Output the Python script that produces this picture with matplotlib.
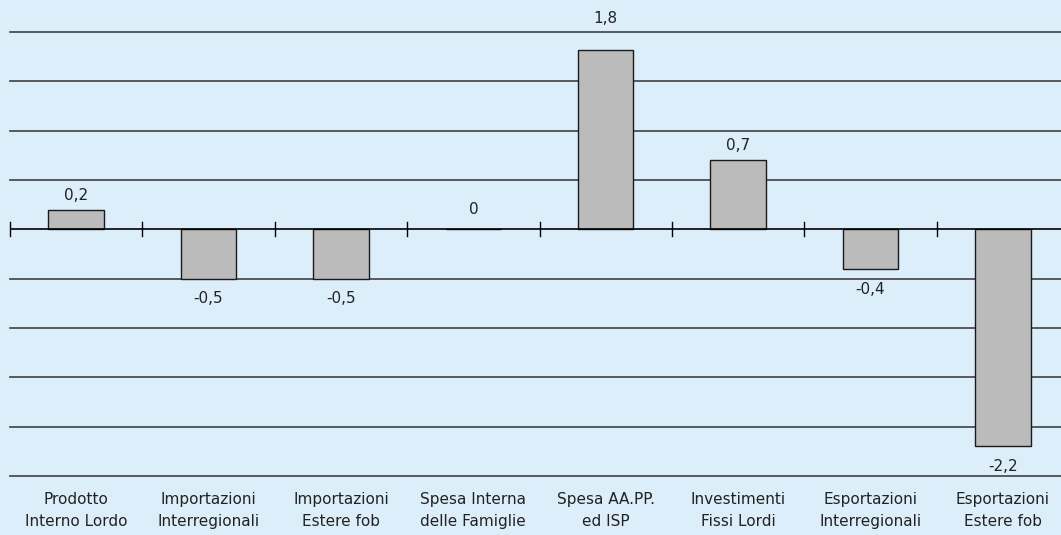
import matplotlib
matplotlib.use("Agg")
import matplotlib.pyplot as plt

categories = ["Prodotto\nInterno Lordo", "Importazioni\nInterregionali", "Importazioni\nEstere fob",
              "Spesa Interna\ndelle Famiglie", "Spesa AA.PP.\ned ISP", "Investimenti\nFissi Lordi",
              "Esportazioni\nInterregionali", "Esportazioni\nEstere fob"]
values = [0.2, -0.5, -0.5, 0.0, 1.82, 0.7, -0.4, -2.2]
value_labels = ["0,2", "-0,5", "-0,5", "0", "1,8", "0,7", "-0,4", "-2,2"]

W, H = 1061, 535
fig = plt.figure(figsize=(W/100, H/100), dpi=100)
bg = "#DDEEFB"
fig.patch.set_facecolor(bg)
ax = fig.add_axes([10/W, 1-476/H, 1059/W, (476-32)/H])
ax.set_facecolor(bg)
n = len(categories)
x = list(range(n))
ax.set_xlim(-0.5, n-0.5)
ax.set_ylim(-2.5, 2.0)

for v in [-2.5, -2.0, -1.5, -1.0, -0.5, 0.5, 1.0, 1.5, 2.0]:
    ax.axhline(v, color="#404040", lw=1.2, zorder=1, clip_on=False)

ax.bar(x, values, width=0.42, color="#BBBBBB", edgecolor="#1a1a1a", lw=1.0, zorder=3)
ax.axhline(0, color="black", lw=1.2, zorder=4)
for b in [i - 0.5 for i in range(n)]:
    ax.plot([b, b], [-0.07, 0.07], color="black", lw=1.0, zorder=4, clip_on=False)

for xi, v, lab in zip(x, values, value_labels):
    if v > 0:
        y = v + 0.07
        if y > 1.85:
            y = 2.06
        ax.text(xi, y, lab, ha="center", va="bottom", fontsize=11, color="#222222", clip_on=False)
    elif v < 0:
        ax.text(xi, v - 0.13, lab, ha="center", va="top", fontsize=11, color="#222222")
    else:
        ax.text(xi, 0.12, lab, ha="center", va="bottom", fontsize=11, color="#222222")

for xi, lab in zip(x, categories):
    ax.text(xi, -2.5 - 0.16, lab, ha="center", va="top", fontsize=11, color="#222222", linespacing=1.6)

for s in ax.spines.values():
    s.set_visible(False)
ax.set_xticks([])
ax.set_yticks([])

fig.savefig("out.png", dpi=100, facecolor=bg)
